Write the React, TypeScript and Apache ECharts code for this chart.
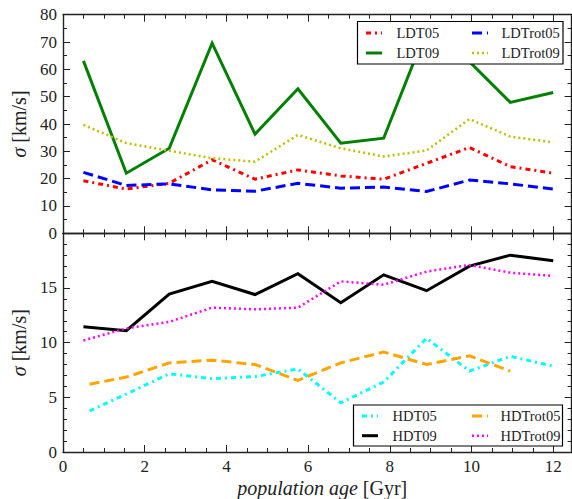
import React, { useEffect, useRef } from "react";
import * as echarts from "echarts";

// Population ages (Gyr) at which the dispersions were measured
const ages = [0.5, 1.55, 2.6, 3.65, 4.7, 5.75, 6.8, 7.85, 8.9, 9.95, 10.95, 12.0];
const agesHdt05 = [0.65, 1.55, 2.6, 3.65, 4.7, 5.75, 6.8, 7.85, 8.9, 9.95, 10.95, 12.0];
const agesHdtRot05 = [0.65, 1.55, 2.6, 3.65, 4.7, 5.75, 6.8, 7.85, 8.9, 9.95, 10.95];

// Upper panel: LDT models, sigma in km/s
const ldt05 = [19.2, 16.2, 18.3, 26.9, 19.8, 23.2, 21.0, 19.8, 25.6, 31.4, 24.4, 22.0];
const ldtRot05 = [22.3, 17.5, 18.1, 15.9, 15.4, 18.3, 16.5, 16.9, 15.3, 19.5, 18.1, 16.2];
const ldt09 = [63.1, 22.0, 31.1, 69.6, 36.3, 52.9, 33.0, 34.8, 74.5, 62.8, 47.9, 51.5];
const ldtRot09 = [39.7, 33.0, 30.2, 27.5, 26.2, 36.0, 31.1, 28.1, 30.3, 41.8, 35.4, 33.3];

// Lower panel: HDT models, sigma in km/s
const hdt05 = [3.75, 5.3, 7.15, 6.7, 6.9, 7.6, 4.5, 6.4, 10.4, 7.4, 8.75, 7.85];
const hdtRot05 = [6.2, 6.85, 8.15, 8.4, 8.0, 6.55, 8.15, 9.15, 8.0, 8.8, 7.4];
const hdt09 = [11.45, 11.1, 14.45, 15.6, 14.4, 16.3, 13.65, 16.2, 14.75, 17.0, 18.0, 17.5];
const hdtRot09 = [10.2, 11.3, 11.9, 13.2, 13.05, 13.2, 15.6, 15.3, 16.5, 17.1, 16.4, 16.1];

const xMax = 12.45;
const FONT = "Liberation Serif";
const INK = "#222";

const pairs = (xs: number[], ys: number[]) => ys.map((y, i) => [xs[i], y]);

const DASHDOT = [5, 4, 2, 4];
const DASHED = [10, 5];
const DOTTED = [2, 3];

type Style = { name: string; color: string; dash: number[] | null; width: number };

const S_LDT05: Style = { name: "LDT05", color: "#ff0000", dash: DASHDOT, width: 3 };
const S_LDTROT05: Style = { name: "LDTrot05", color: "#0000ff", dash: DASHED, width: 3 };
const S_LDT09: Style = { name: "LDT09", color: "#008000", dash: null, width: 3 };
const S_LDTROT09: Style = { name: "LDTrot09", color: "#bfbf00", dash: DOTTED, width: 2.5 };
const S_HDT05: Style = { name: "HDT05", color: "#00ffff", dash: DASHDOT, width: 3 };
const S_HDTROT05: Style = { name: "HDTrot05", color: "#ffa500", dash: DASHED, width: 3 };
const S_HDT09: Style = { name: "HDT09", color: "#000000", dash: null, width: 3 };
const S_HDTROT09: Style = { name: "HDTrot09", color: "#ff00ff", dash: DOTTED, width: 2.5 };

const serif = (size: number, italic = false) => ({
  fontFamily: FONT,
  fontSize: size,
  fontStyle: italic ? "italic" : "normal",
  fontWeight: "normal",
  color: INK,
});

function lineSeries(s: Style, xs: number[], ys: number[], xAxisIndex: number, yAxisIndex: number) {
  return {
    name: s.name,
    type: "line",
    xAxisIndex,
    yAxisIndex,
    data: pairs(xs, ys),
    symbol: "none",
    showSymbol: false,
    clip: true,
    z: 2,
    itemStyle: { color: s.color },
    lineStyle: { color: s.color, width: s.width, type: s.dash ?? "solid", cap: "butt", join: "miter" },
  };
}

function xAxes(gridIndex: number, withLabels: boolean) {
  const tickStyle = { color: INK, width: 1 };
  const base = {
    type: "value",
    gridIndex,
    min: 0,
    max: xMax,
    splitLine: { show: false },
  };
  const major = (position: string, labels: boolean) => ({
    ...base,
    position,
    interval: 2,
    axisLine: { show: true, onZero: false, lineStyle: { color: INK, width: 1.4 } },
    axisTick: { show: true, inside: true, length: 7, lineStyle: tickStyle },
    axisLabel: {
      show: labels,
      showMaxLabel: false,
      margin: 6,
      ...serif(17),
      formatter: (v: number) => `{n|${v}}`,
      rich: { n: serif(17) },
    },
    ...(labels
      ? {
          name: "{i|population age} {r|[Gyr]}",
          nameLocation: "middle",
          nameGap: 26,
          nameTextStyle: {
            ...serif(20),
            padding: [0, 0, 0, 10],
            rich: { i: serif(20, true), r: serif(20) },
          },
        }
      : {}),
  });
  const minor = (position: string) => ({
    ...base,
    position,
    interval: 0.5,
    axisLine: { show: false, onZero: false },
    axisTick: { show: true, inside: true, length: 4, lineStyle: tickStyle },
    axisLabel: { show: false },
  });
  return [major("bottom", withLabels), major("top", false), minor("bottom"), minor("top")];
}

function yAxes(gridIndex: number, max: number, interval: number, minorSplit: number, showMax: boolean) {
  const tickStyle = { color: INK, width: 1 };
  const common = {
    type: "value",
    gridIndex,
    min: 0,
    max,
    interval,
    splitLine: { show: false },
    axisLine: { show: true, onZero: false, lineStyle: { color: INK, width: 1.4 } },
    axisTick: { show: true, inside: true, length: 7, lineStyle: tickStyle },
    minorTick: { show: true, splitNumber: minorSplit, length: 4, lineStyle: tickStyle },
  };
  return [
    {
      ...common,
      position: "left",
      axisLabel: {
        show: true,
        showMaxLabel: showMax,
        margin: 6,
        ...serif(17),
      },
      name: "{i|σ} {r|[km/s]}",
      nameLocation: "middle",
      nameGap: 29,
      nameTextStyle: {
        ...serif(20),
        rich: { i: serif(20, true), r: serif(20) },
      },
    },
    {
      ...common,
      position: "right",
      axisLabel: { show: false },
    },
  ];
}

// Boxed two-column key drawn with graphic elements
function legendBox(
  box: { x: number; y: number; w: number; h: number },
  rows: number[],
  cols: { icon: number; text: number }[],
  items: Style[][]
) {
  const els: any[] = [
    {
      type: "rect",
      z: 10,
      shape: { x: box.x, y: box.y, width: box.w, height: box.h },
      style: { fill: "#fff", stroke: "#000", lineWidth: 1.2 },
    },
  ];
  items.forEach((col, ci) =>
    col.forEach((s, ri) => {
      const y = rows[ri];
      els.push({
        type: "line",
        z: 11,
        shape: { x1: cols[ci].icon, y1: y, x2: cols[ci].icon + 16, y2: y },
        style: {
          stroke: s.color,
          lineWidth: s.width,
          lineDash: s.dash ?? null,
          lineCap: "butt",
        },
      });
      els.push({
        type: "text",
        z: 11,
        x: cols[ci].text,
        y,
        style: {
          text: s.name,
          fontFamily: FONT,
          fontSize: 14.5,
          fill: INK,
          verticalAlign: "middle",
          align: "left",
        },
      });
    })
  );
  return els;
}

export default function App() {
  const ref = useRef<HTMLDivElement>(null);

  useEffect(() => {
    document.body.style.margin = "0";
    if (!ref.current) return;
    const chart = echarts.init(ref.current, undefined, { renderer: "svg" });

    const gridLeft = 63;
    const gridWidth = 508.6;

    chart.setOption({
      animation: false,
      backgroundColor: "#fff",
      textStyle: { fontFamily: FONT },
      grid: [
        { left: gridLeft, top: 14.7, width: gridWidth, height: 218.6 },
        { left: gridLeft, top: 233.3, width: gridWidth, height: 220 },
      ],
      xAxis: [...xAxes(0, false), ...xAxes(1, true)],
      yAxis: [...yAxes(0, 80, 10, 2, true), ...yAxes(1, 20, 5, 5, false)],
      graphic: [
        ...legendBox(
          { x: 357.5, y: 21.5, w: 205.5, h: 42.5 },
          [33, 53],
          [
            { icon: 366, text: 396.5 },
            { icon: 472, text: 501.5 },
          ],
          [
            [S_LDT05, S_LDT09],
            [S_LDTROT05, S_LDTROT09],
          ]
        ),
        ...legendBox(
          { x: 353.5, y: 405, w: 209, h: 41 },
          [416, 435.7],
          [
            { icon: 362, text: 392.5 },
            { icon: 472, text: 500.5 },
          ],
          [
            [S_HDT05, S_HDT09],
            [S_HDTROT05, S_HDTROT09],
          ]
        ),
      ],
      series: [
        lineSeries(S_LDT05, ages, ldt05, 0, 0),
        lineSeries(S_LDTROT05, ages, ldtRot05, 0, 0),
        lineSeries(S_LDT09, ages, ldt09, 0, 0),
        lineSeries(S_LDTROT09, ages, ldtRot09, 0, 0),
        lineSeries(S_HDT05, agesHdt05, hdt05, 4, 2),
        lineSeries(S_HDTROT05, agesHdtRot05, hdtRot05, 4, 2),
        lineSeries(S_HDT09, ages, hdt09, 4, 2),
        lineSeries(S_HDTROT09, ages, hdtRot09, 4, 2),
      ],
    });

    return () => chart.dispose();
  }, []);

  return <div ref={ref} style={{ width: 572, height: 499 }} />;
}
